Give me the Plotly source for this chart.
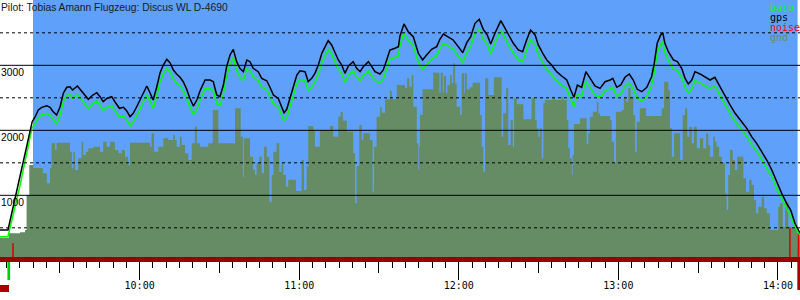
import pandas as pd
import plotly.graph_objects as go

# ---------------- data (times in minutes after 09:00, altitudes in m) ----------------
title_text = "Pilot: Tobias Amann Flugzeug: Discus WL D-4690"
base_day = pd.Timestamp("2010-06-01 09:00:00")

fix_min = [7.5, 10.5, 15.0, 19.6, 20.7, 21.9, 23.2, 25.1, 26.3, 27.5,
           28.8, 30.1, 31.3, 32.6, 33.8, 34.8, 35.7, 36.6, 37.6, 39.5,
           40.7, 42.4, 43.9, 45.1, 46.3, 47.8, 49.5, 50.7, 52.4, 53.9,
           55.1, 56.4, 57.6, 58.9, 60.8, 62.7, 63.9, 65.1, 66.4, 67.7,
           68.9, 70.2, 71.4, 72.7, 73.9, 75.2, 76.4, 77.7, 78.9, 80.2,
           81.5, 82.7, 84.6, 86.5, 87.7, 89.0, 90.2, 91.5, 92.7, 94.0,
           95.2, 96.5, 97.7, 99.0, 100.3, 101.5, 102.7, 104.6, 105.9, 107.8,
           109.0, 110.3, 112.1, 113.4, 114.3, 115.3, 116.5, 117.8, 119.1, 120.3,
           122.2, 123.4, 124.7, 125.9, 127.2, 128.5, 129.7, 130.9, 132.2, 133.5,
           134.7, 136.0, 137.2, 138.5, 140.3, 141.6, 142.9, 144.1, 146.0, 147.3,
           148.5, 150.4, 151.6, 152.9, 154.1, 156.0, 157.3, 157.9, 159.4, 161.0,
           162.9, 164.8, 166.4, 167.9, 169.8, 171.7, 172.9, 174.2, 176.1, 177.9,
           179.8, 181.5, 183.0, 184.5, 186.1, 187.7, 189.2, 190.7, 192.0, 193.6,
           195.8, 197.4, 198.6, 200.5, 202.4, 204.0, 205.5, 207.0, 208.7, 209.9,
           211.6, 213.1, 214.9, 216.8, 218.7, 220.6, 222.1, 223.3, 224.6, 226.2,
           227.8, 229.3, 231.2, 233.1, 235.0, 236.9, 237.9, 239.4, 240.9, 242.5,
           244.1, 245.6, 247.1, 248.8, 250.7, 252.5, 253.4, 254.6, 255.9, 256.7,
           257.5, 258.8, 260.7, 262.2, 263.8, 265.1, 266.3, 267.6, 268.8, 270.7,
           272.6, 274.5, 276.3, 278.2, 280.1, 282.0, 283.9, 286.4, 288.3, 290.1,
           292.0, 293.9, 295.8, 297.7, 299.5, 301.4, 303.3, 304.8, 306.4, 307.7,
           308.3]

gps_alt = [466, 466, 1290, 2133, 2205, 2313, 2354, 2379, 2354, 2286,
           2236, 2363, 2570, 2662, 2671, 2620, 2651, 2682, 2631, 2543,
           2477, 2543, 2579, 2517, 2440, 2493, 2517, 2440, 2339, 2354,
           2302, 2210, 2262, 2363, 2517, 2682, 2579, 2466, 2662, 2887,
           3005, 3093, 3040, 2928, 2867, 2816, 2748, 2631, 2493, 2374,
           2466, 2605, 2774, 2774, 2748, 2543, 2517, 2697, 2979, 3159,
           3246, 3056, 2954, 2902, 3082, 3056, 2954, 2902, 2800, 2763,
           2662, 2543, 2493, 2374, 2271, 2323, 2493, 2671, 2851, 2917,
           2902, 2748, 2800, 2877, 3005, 3185, 3287, 3379, 3313, 3185,
           3082, 3005, 2877, 2990, 3056, 2954, 2902, 2979, 3056, 2979,
           2902, 2867, 2928, 3082, 3236, 3262, 3287, 3451, 3636, 3517,
           3440, 3185, 3082, 3159, 3246, 3287, 3400, 3482, 3431, 3390,
           3287, 3194, 3348, 3440, 3646, 3708, 3554, 3467, 3328, 3493,
           3687, 3570, 3493, 3339, 3236, 3210, 3390, 3543, 3467, 3313,
           3185, 3082, 3005, 2902, 2836, 2774, 2620, 2508, 2697, 2662,
           2902, 2800, 2682, 2646, 2748, 2774, 2800, 2662, 2697, 2816,
           2867, 2774, 2631, 2594, 2662, 2825, 3005, 3339, 3467, 3502,
           3339, 3210, 3082, 3056, 2954, 2800, 2713, 2774, 2902, 2867,
           2825, 2774, 2816, 2671, 2517, 2390, 2262, 2133, 2031, 1902,
           1800, 1671, 1543, 1390, 1210, 1031, 877, 774, 570, 466,
           420]

baro_alt = [363, 363, 1150, 2045, 2100, 2190, 2240, 2262, 2235, 2160,
            2097, 2235, 2440, 2540, 2545, 2490, 2520, 2550, 2500, 2410,
            2339, 2410, 2450, 2390, 2305, 2360, 2385, 2305, 2205, 2220,
            2165, 2067, 2125, 2225, 2385, 2550, 2450, 2339, 2525, 2750,
            2870, 2954, 2905, 2790, 2730, 2680, 2610, 2495, 2360, 2245,
            2330, 2470, 2640, 2640, 2615, 2410, 2385, 2560, 2840, 3020,
            3120, 2920, 2820, 2765, 2945, 2920, 2820, 2765, 2665, 2625,
            2525, 2410, 2360, 2240, 2150, 2190, 2360, 2535, 2715, 2780,
            2765, 2610, 2665, 2740, 2865, 3045, 3145, 3245, 3175, 3045,
            2945, 2865, 2740, 2850, 2915, 2815, 2765, 2840, 2915, 2840,
            2765, 2730, 2790, 2945, 3095, 3120, 3145, 3310, 3500, 3380,
            3300, 3040, 2940, 3015, 3100, 3145, 3255, 3340, 3290, 3245,
            3140, 3045, 3200, 3290, 3495, 3555, 3405, 3320, 3180, 3345,
            3535, 3420, 3345, 3190, 3085, 3055, 3240, 3395, 3320, 3165,
            3040, 2935, 2860, 2760, 2695, 2635, 2480, 2365, 2555, 2520,
            2760, 2660, 2545, 2505, 2610, 2635, 2660, 2525, 2560, 2675,
            2730, 2635, 2495, 2455, 2525, 2685, 2865, 3195, 3325, 3360,
            3200, 3070, 2945, 2920, 2815, 2660, 2575, 2640, 2765, 2730,
            2690, 2640, 2680, 2540, 2385, 2260, 2135, 2010, 1905, 1780,
            1680, 1555, 1430, 1285, 1110, 940, 795, 680, 515, 430,
            385]

gnd_min = [7.5, 10.9, 15.0, 16.9, 17.5, 18.5, 20.0, 23.6, 25.1, 26.3,
           26.9, 28.2, 28.8, 33.8, 34.5, 35.1, 35.7, 36.9, 38.2, 38.8,
           39.8, 40.7, 42.6, 45.1, 46.3, 47.6, 48.9, 50.7, 52.0, 53.3,
           54.5, 55.7, 56.4, 63.9, 64.5, 65.4, 67.0, 68.9, 70.8, 72.7,
           73.3, 73.9, 75.2, 75.8, 77.1, 78.3, 79.6, 80.8, 81.5, 82.7,
           85.8, 87.5, 89.6, 95.9, 98.0, 98.8, 99.2, 101.5, 102.7, 103.4,
           104.0, 105.0, 105.9, 106.8, 107.8, 108.8, 109.7, 110.3, 111.5, 112.5,
           113.4, 114.0, 115.0, 115.9, 118.8, 120.9, 121.8, 122.8, 123.4, 125.3,
           125.9, 127.8, 131.6, 132.8, 134.7, 135.6, 136.4, 137.9, 140.3, 141.0,
           141.6, 142.6, 143.5, 144.1, 146.6, 147.6, 148.1, 149.1, 150.4, 151.0,
           152.3, 154.1, 154.8, 156.7, 159.8, 160.6, 161.4, 162.3, 162.9, 164.2,
           164.8, 165.1, 165.4, 166.4, 170.4, 172.7, 173.2, 174.0, 174.4, 175.2,
           175.7, 176.7, 177.3, 177.9, 178.6, 179.2, 180.5, 181.1, 182.0, 182.3,
           183.0, 184.2, 185.2, 188.0, 188.6, 189.2, 189.9, 191.1, 193.2, 196.1,
           196.7, 197.8, 198.6, 199.5, 200.3, 200.8, 201.8, 204.3, 207.4, 208.7,
           209.3, 209.9, 210.5, 211.2, 211.8, 212.4, 215.3, 216.2, 218.7, 219.3,
           220.6, 221.2, 221.8, 222.5, 222.8, 223.3, 225.6, 228.1, 228.7, 229.3,
           230.4, 231.9, 232.5, 233.1, 236.9, 237.5, 238.4, 239.1, 241.3, 242.1,
           242.9, 243.7, 244.6, 245.6, 246.3, 246.9, 248.1, 250.4, 256.3, 257.2,
           258.8, 259.4, 260.1, 260.9, 263.2, 264.2, 265.1, 265.9, 266.7, 267.6,
           268.4, 269.5, 270.7, 271.9, 273.0, 273.8, 274.5, 275.7, 276.3, 276.9,
           277.9, 278.9, 280.1, 280.7, 281.3, 282.0, 283.0, 283.9, 284.7, 287.0,
           288.0, 289.2, 290.1, 291.0, 291.8, 292.6, 293.9, 294.8, 295.8, 297.0,
           300.1, 300.8, 301.8, 302.7, 303.9, 305.2, 307.1, 308.3]

gnd_alt = [348, 416, 431, 466, 1005, 1466, 1420, 1339, 1185, 1420,
           1800, 1697, 1810, 1671, 1416, 1671, 1390, 1569, 1825, 1620,
           1671, 1723, 1748, 1671, 1825, 1748, 1825, 1697, 1646, 1697,
           1594, 1466, 1810, 1748, 1954, 1671, 1748, 1877, 1851, 1928,
           1851, 1748, 1902, 1774, 1646, 1543, 1800, 2056, 1800, 1748,
           1800, 2313, 1800, 2339, 1902, 1287, 1877, 1594, 1390, 1313,
           1493, 1594, 1339, 1748, 1594, 902, 1313, 1671, 1800, 1363,
           1493, 1313, 1133, 1240, 1066, 1543, 1082, 1440, 2067, 2005,
           1748, 2005, 2067, 1902, 2210, 2282, 2148, 1979, 1646, 877,
           1451, 2082, 1851, 1954, 1851, 1056, 1748, 2210, 2354, 2271,
           2477, 2610, 2477, 2697, 2646, 2800, 2671, 2851, 2363, 1800,
           1390, 1748, 2236, 2631, 2887, 2579, 2887, 2579, 2836, 2570,
           2697, 2851, 2723, 3031, 2723, 2363, 2236, 2877, 2570, 2877,
           2631, 2662, 2733, 2236, 1748, 1363, 2800, 2543, 2816, 1902,
           2262, 2646, 1774, 2159, 1748, 2493, 2400, 2170, 2493, 2159,
           2031, 1902, 2031, 1569, 2416, 2466, 2517, 2466, 2517, 2466,
           2159, 1723, 1569, 1313, 1620, 2097, 2185, 1790, 1954, 2210,
           2287, 2440, 2262, 2220, 2159, 1825, 1493, 2287, 2313, 2517,
           2440, 2646, 2517, 2236, 1671, 2133, 2339, 2220, 2339, 2748,
           2620, 2031, 1594, 1954, 1543, 2236, 2339, 1902, 2056, 1800,
           2056, 1723, 1877, 1723, 1954, 1774, 1594, 1902, 1825, 1748,
           1594, 1493, 1031, 774, 1313, 1697, 1543, 1390, 1594, 1262,
           1056, 1236, 1159, 928, 723, 825, 979, 800, 723, 466,
           825, 877, 517, 902, 517, 492, 415, 415]

noise_min = [7.5, 12.3, 12.4, 12.5, 304.4, 304.5, 304.6, 307.6, 307.7, 307.8, 308.3]
noise_val = [0, 0, 265, 0, 0, 500, 0, 0, 430, 0, 0]

flight_start_min = 19.9
flight_end_min = 307.4
view_start_min = 7.5
view_end_min = 308.3
alt_range = [51, 4005]
grid_solid = [1000, 2000, 3000]
grid_dashed = [500, 1500, 2500, 3500]
ytick_labels = ["1000", "2000", "3000"]

legend_names = ["baro", "gps", "noise", "gnd"]
legend_colors = ["#00ff00", "#000000", "#ff0000", "#6b8c63"]

# event strip below the time axis (strip units: px-like depth below axis)
event_min = [10.8, 307.8]
event_top = [5, 5]
event_bottom = [23, 33]
event_colors = ["#00cc00", "#aa0000"]
block_min = [7.5, 10.9]
block_depth = 31.5

BLUE = "#5fa0fa"
GND = "#658c64"


def t(m):
    if isinstance(m, (list, tuple)):
        return [base_day + pd.Timedelta(minutes=v) for v in m]
    return base_day + pd.Timedelta(minutes=m)


fig = go.Figure()

fig.add_trace(go.Scatter(x=t(gnd_min), y=gnd_alt, mode="lines",
                         line=dict(width=0, shape="hv", color=GND),
                         fill="tozeroy", fillcolor=GND, showlegend=False,
                         hoverinfo="skip"))
fig.add_trace(go.Scatter(x=t(noise_min), y=noise_val, mode="lines",
                         line=dict(width=1, color="#dd0000"), showlegend=False))
fig.add_trace(go.Scatter(x=t(fix_min), y=baro_alt, mode="lines",
                         line=dict(width=1.5, color="#00ff00"), showlegend=False))
fig.add_trace(go.Scatter(x=t(fix_min), y=gps_alt, mode="lines",
                         line=dict(width=1.5, color="#000000"), showlegend=False))

# event strip
for em, et, eb, ec in zip(event_min, event_top, event_bottom, event_colors):
    fig.add_trace(go.Scatter(x=t([em, em]), y=[et, eb], mode="lines", yaxis="y2",
                             line=dict(width=2.7, color=ec), showlegend=False))
fig.add_trace(go.Scatter(x=t(block_min), y=[block_depth, block_depth], mode="lines",
                         yaxis="y2", line=dict(width=7, color="#aa0000"),
                         showlegend=False))
# helper trace for the half-hour tick axis
fig.add_trace(go.Scatter(x=t([view_start_min]), y=[alt_range[0]], xaxis="x2",
                         mode="markers", marker=dict(opacity=0), showlegend=False,
                         hoverinfo="skip"))

shapes = [dict(type="rect", xref="x", yref="y domain",
               x0=t(flight_start_min), x1=t(flight_end_min), y0=0, y1=1,
               fillcolor=BLUE, line=dict(width=0), layer="below")]
for g in grid_solid:
    shapes.append(dict(type="line", xref="paper", yref="y", x0=0, x1=1, y0=g, y1=g,
                       line=dict(color="black", width=1), layer="above"))
for g in grid_dashed:
    shapes.append(dict(type="line", xref="paper", yref="y", x0=0, x1=1, y0=g, y1=g,
                       line=dict(color="black", width=1, dash="3px,3px"), layer="above"))

annotations = [dict(text=title_text, xref="paper", yref="paper", x=0, y=1,
                    xanchor="left", yanchor="top", showarrow=False, xshift=-1,
                    font=dict(family="Liberation Sans", size=10.3, color="#1a1a1a"))]
for g, lab in zip(grid_solid, ytick_labels):
    annotations.append(dict(text=lab, xref="paper", yref="y", x=0, y=g,
                            xanchor="left", yanchor="top", showarrow=False, xshift=-1,
                            font=dict(family="Liberation Sans", size=10.3, color="black")))
for i, (nm, col) in enumerate(zip(legend_names, legend_colors)):
    annotations.append(dict(text=nm, xref="paper", yref="paper", x=769 / 800,
                            y=1 - (7.5 + 10 * i) / 300, xanchor="left", yanchor="middle",
                            showarrow=False, xshift=-1,
                            font=dict(family="DejaVu Sans Mono", size=10, color=col)))

bottom_frac = 43 / 300
xr = [t(view_start_min), t(view_end_min)]

fig.update_layout(
    width=800, height=300, margin=dict(l=0, r=0, t=0, b=0),
    paper_bgcolor="white", plot_bgcolor="white",
    shapes=shapes, annotations=annotations, showlegend=False,
    xaxis=dict(type="date", range=xr, showgrid=False, zeroline=False,
               showline=True, linecolor="#990000", linewidth=5,
               ticks="outside", ticklen=18, tickwidth=1, tickcolor="black",
               dtick=3600000, tick0=t(60), tickformat="%H:%M",
               ticklabelstandoff=-3,
               tickfont=dict(family="DejaVu Sans Mono", size=10, color="black"),
               minor=dict(dtick=300000, tick0=t(60), ticks="outside", ticklen=6,
                          tickwidth=1, tickcolor="black", showgrid=False),
               fixedrange=True),
    xaxis2=dict(type="date", range=xr, overlaying="x", anchor="y", side="bottom",
                showgrid=False, zeroline=False, showline=True, linecolor="#990000",
                linewidth=5, ticks="outside", ticklen=11, tickwidth=1,
                tickcolor="black", dtick=1800000, tick0=t(60),
                showticklabels=False, fixedrange=True),
    yaxis=dict(range=alt_range, domain=[bottom_frac, 1], showgrid=False,
               zeroline=False, showticklabels=False, ticks="", showline=False,
               fixedrange=True),
    yaxis2=dict(range=[43, 0], domain=[0, bottom_frac], visible=False,
                anchor="x", fixedrange=True),
)

fig.write_html("out.html", config={"displayModeBar": False})
